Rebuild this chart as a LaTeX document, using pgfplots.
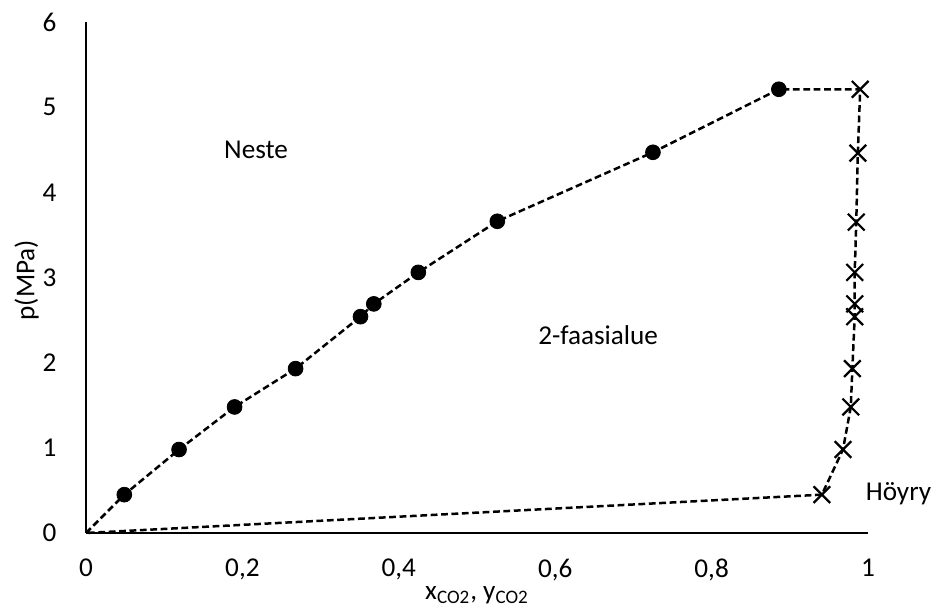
\documentclass[border=0pt]{standalone}
\usepackage{fontspec}
\setmainfont{Carlito}
\usepackage{pgfplots}
\pgfplotsset{compat=1.18}
\begin{document}
\begin{tikzpicture}[font=\fontsize{13.6}{16.3}\selectfont]
\useasboundingbox (-43pt,-40pt) rectangle (427.5pt,266.5pt);
\begin{axis}[
  at={(0,0)}, anchor=south west,
  scale only axis, width=391pt, height=255.5pt,
  xmin=0, xmax=1, ymin=0, ymax=6,
  axis x line=bottom, axis y line=left,
  axis line style={-, line width=1pt, black},
  xtick={0,0.2,0.4,0.6,0.8,1}, ytick={0,1,2,3,4,5,6},
  major tick length=0pt,
  xticklabel shift=9.5pt, yticklabel shift=11.2pt,
  /pgf/number format/assume math mode=true,
  /pgf/number format/use comma,
  xlabel={x\textsubscript{CO2}, y\textsubscript{CO2}},
  ylabel={p(MPa)},
  xlabel style={at={(axis description cs:0.5,-0.13)}, anchor=base},
  ylabel style={at={(axis description cs:-0.076,0.495)}, anchor=center},
  clip=false,
]
\addplot[black, line width=1.25pt, dash pattern=on 3.4pt off 1.8pt] coordinates {
 (0,0) (0.049,0.45) (0.119,0.98) (0.190,1.48) (0.268,1.93) (0.351,2.54)
 (0.368,2.69) (0.425,3.06) (0.526,3.66) (0.725,4.47) (0.886,5.21)
 (0.990,5.21) (0.987,4.46) (0.985,3.65) (0.983,3.06) (0.983,2.69)
 (0.983,2.54) (0.980,1.93) (0.978,1.48) (0.968,0.98) (0.941,0.45) (0,0)
};
\addplot[only marks, mark=*, mark size=3.7pt, black] coordinates {
 (0.049,0.45) (0.119,0.98) (0.190,1.48) (0.268,1.93) (0.351,2.54)
 (0.368,2.69) (0.425,3.06) (0.526,3.66) (0.725,4.47) (0.886,5.21)
};
\addplot[only marks, mark=x, mark size=5.9pt, black, mark options={line width=1.1pt}] coordinates {
 (0.990,5.21) (0.987,4.46) (0.985,3.65) (0.983,3.06) (0.983,2.69)
 (0.983,2.54) (0.980,1.93) (0.978,1.48) (0.968,0.98) (0.941,0.45)
};
\node at (axis cs:0.2175,4.50) {Neste};
\node at (axis cs:0.655,2.32) {2-faasialue};
\node at (axis cs:1.039,0.46) {Höyry};
\end{axis}
\end{tikzpicture}
\end{document}
